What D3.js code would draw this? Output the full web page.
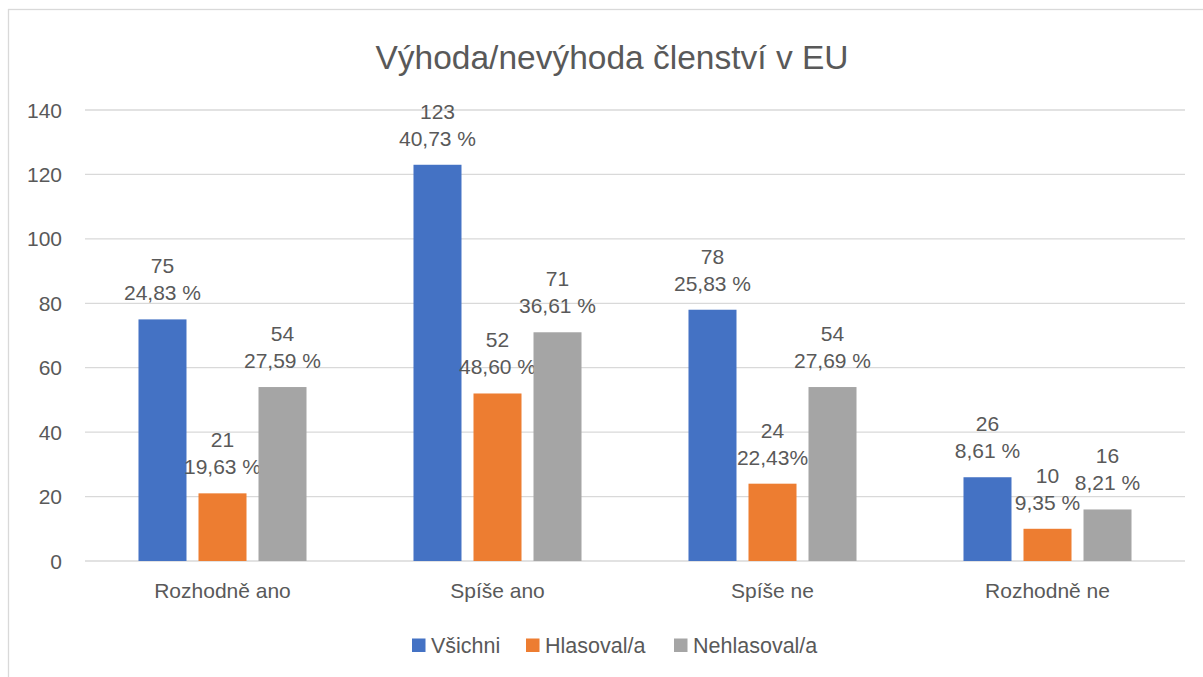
<!DOCTYPE html>
<html>
<head>
  <meta charset="UTF-8">
  <style>
    body { margin: 0; background: white; }
    svg text { font-family: "Liberation Sans", Arial, sans-serif; fill: #595959; }
    .grid line { stroke: #d9d9d9; stroke-width: 1.3; }
  </style>
</head>
<body>
<svg id="chart" width="1203" height="677"></svg>

<script src="https://d3js.org/d3.v7.min.js"></script>
<script>

let categories = ["Rozhodně ano", "Spíše ano", "Spíše ne", "Rozhodně ne"];
let seriesNames = ["Všichni", "Hlasoval/a", "Nehlasoval/a"];
let colors = ["#4472c4", "#ed7d31", "#a5a5a5"];

let vsichni = [75, 123, 78, 26];
let hlasoval = [21, 52, 24, 10];
let nehlasoval = [54, 71, 54, 16];

let pctVsichni = ["24,83 %", "40,73 %", "25,83 %", "8,61 %"];
let pctHlasoval = ["19,63 %", "48,60 %", "22,43%", "9,35 %"];
let pctNehlasoval = ["27,59 %", "36,61 %", "27,69 %", "8,21 %"];

let yTicks = [0, 20, 40, 60, 80, 100, 120, 140];

let values = [vsichni, hlasoval, nehlasoval];
let pcts = [pctVsichni, pctHlasoval, pctNehlasoval];

let svg = d3.select("#chart");

// chart border (right and bottom run off the picture)
svg.append("rect")
    .attr("x", 8.5).attr("y", 9.5)
    .attr("width", 1230).attr("height", 700)
    .attr("fill", "white")
    .attr("stroke", "#d9d9d9")
    .attr("stroke-width", 1.3);

let x = d3.scaleBand().domain(categories).range([85, 1185]).paddingInner(0.389).paddingOuter(0.1945);
let xs = d3.scaleBand().domain(seriesNames).range([0, x.bandwidth()]).paddingInner(0.2);
let y = d3.scaleLinear().domain([0, 140]).range([561, 110]);

svg.append("text")
    .attr("x", 612).attr("y", 69)
    .attr("text-anchor", "middle")
    .style("font-size", "33.5px")
    .text("Výhoda/nevýhoda členství v EU");

svg.append("g")
    .attr("class", "grid")
    .selectAll("line")
    .data(yTicks)
    .enter()
    .append("line")
    .attr("x1", 85).attr("x2", 1185)
    .attr("y1", d => y(d)).attr("y2", d => y(d));

svg.append("g")
    .selectAll("text")
    .data(yTicks)
    .enter()
    .append("text")
    .attr("x", 62)
    .attr("y", d => y(d) + 7.5)
    .attr("text-anchor", "end")
    .style("font-size", "21px")
    .text(d => d);

svg.append("g")
    .selectAll("text")
    .data(categories)
    .enter()
    .append("text")
    .attr("x", d => x(d) + x.bandwidth() / 2)
    .attr("y", 598)
    .attr("text-anchor", "middle")
    .style("font-size", "21px")
    .text(d => d);

seriesNames.forEach((s, si) => {
    let g = svg.append("g");
    g.selectAll("rect")
        .data(categories)
        .enter()
        .append("rect")
        .attr("x", d => x(d) + xs(s))
        .attr("width", xs.bandwidth())
        .attr("y", (d, i) => y(values[si][i]))
        .attr("height", (d, i) => y(0) - y(values[si][i]))
        .attr("fill", colors[si]);

    let lab = g.selectAll("text.lab")
        .data(categories)
        .enter()
        .append("text")
        .attr("class", "lab")
        .attr("text-anchor", "middle")
        .style("font-size", "21px");
    lab.append("tspan")
        .attr("x", d => x(d) + xs(s) + xs.bandwidth() / 2)
        .attr("y", (d, i) => y(values[si][i]) - 46)
        .text((d, i) => values[si][i]);
    lab.append("tspan")
        .attr("x", d => x(d) + xs(s) + xs.bandwidth() / 2)
        .attr("y", (d, i) => y(values[si][i]) - 19)
        .text((d, i) => pcts[si][i]);
});

// legend
let legendX = [412, 526, 674];
let legend = svg.append("g");
seriesNames.forEach((s, i) => {
    legend.append("rect")
        .attr("x", legendX[i]).attr("y", 638.5)
        .attr("width", 13.5).attr("height", 13.5)
        .attr("fill", colors[i]);
    legend.append("text")
        .attr("x", legendX[i] + 19).attr("y", 653)
        .style("font-size", "21.5px")
        .text(s);
});

</script>
</body>
</html>
